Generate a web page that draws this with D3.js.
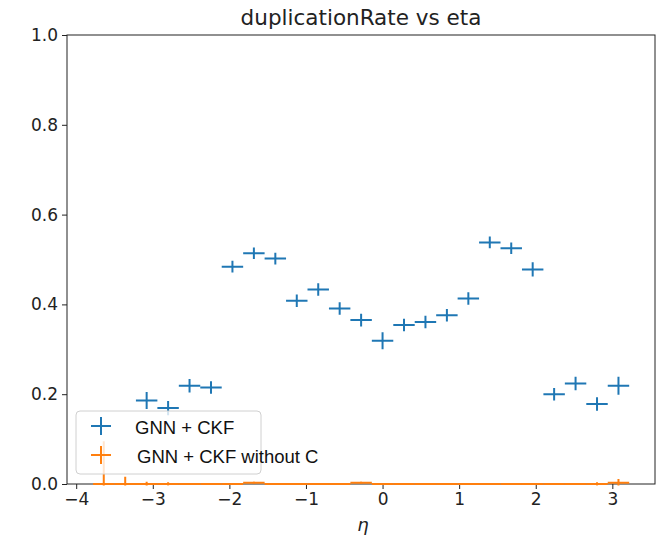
<!DOCTYPE html>
<html>
<head>
<meta charset="utf-8">
<script src="https://cdn.jsdelivr.net/npm/d3@7"></script>
<style>
  body { margin: 0; background: #fff; }
</style>
</head>
<body>
<svg id="chart" width="656" height="539"></svg>
<script>
// eta bin centres, bin width 0.28
const etaBins = [-3.64, -3.36, -3.08, -2.80, -2.52, -2.24, -1.96, -1.68, -1.40, -1.12, -0.84, -0.56, -0.28,
                 0.00, 0.28, 0.56, 0.84, 1.12, 1.40, 1.68, 1.96, 2.24, 2.52, 2.80, 3.08];
const binWidth = 0.28;

// GNN + CKF
const gnnCkf = [null, null, 0.186, 0.169, 0.219, 0.215, 0.484, 0.514, 0.502, 0.408, 0.433, 0.391, 0.365,
                0.319, 0.354, 0.361, 0.376, 0.413, 0.538, 0.525, 0.478, 0.200, 0.224, 0.178, 0.219];
const gnnCkfErr = [null, null, 0.019, 0.016, 0.015, 0.014, 0.013, 0.013, 0.013, 0.014, 0.014, 0.014, 0.014,
                   0.019, 0.014, 0.014, 0.014, 0.014, 0.013, 0.013, 0.016, 0.014, 0.015, 0.015, 0.020];

// GNN + CKF without C
const gnnCkfNoC = [0, 0, 0, 0, 0, 0, 0, 0.003, 0, 0, 0, 0, 0.003,
                   0, 0, 0, 0, 0, 0, 0, 0, 0, 0, 0, 0.003];
const gnnCkfNoCErr = [0.095, 0.016, 0.005, 0.004, 0, 0, 0, 0.002, 0, 0, 0, 0, 0.002,
                      0, 0, 0, 0, 0, 0, 0, 0, 0, 0, 0.004, 0.008];

const yTicks = [0, 0.2, 0.4, 0.6, 0.8, 1.0];
const xTicks = [-4, -3, -2, -1, 0, 1, 2, 3];

const seriesNames = ["GNN + CKF", "GNN + CKF without C"];
const colors = ["#1f77b4", "#ff7f0e"];

var svg = d3.select("#chart"),
    margin = {top: 35, right: 1, bottom: 55, left: 67},
    width = +svg.attr("width"),
    height = +svg.attr("height");

var x = d3.scaleLinear()
    .domain([-4.12, 3.557])
    .range([margin.left, width - margin.right]);

var y = d3.scaleLinear()
    .domain([0, 1])
    .range([height - margin.bottom, margin.top]);

// clip to plot area (a little slack at the bottom so the zero line shows)
svg.append("clipPath").attr("id", "plotClip")
  .append("rect")
    .attr("x", margin.left)
    .attr("y", margin.top)
    .attr("width", width - margin.left - margin.right)
    .attr("height", height - margin.top - margin.bottom + 1.5);

function styleTicks(g) {
    g.select(".domain").remove();
    g.selectAll("text")
        .style("font-family", "DejaVu Sans")
        .style("font-size", "17px")
        .attr("fill", "#222");
    g.selectAll("line").attr("stroke", "#222");
}

// axes
svg.append("g")
    .attr("transform", "translate(" + margin.left + ",0)")
    .call(d3.axisLeft(y).tickValues(yTicks).tickFormat(d3.format(".1f")).tickSize(5).tickPadding(4))
    .call(styleTicks);

svg.append("g")
    .attr("transform", "translate(0," + (height - margin.bottom) + ")")
    .call(d3.axisBottom(x).tickValues(xTicks).tickFormat(d => d < 0 ? "\u2212" + Math.abs(d) : d).tickSize(5).tickPadding(4))
    .call(styleTicks);

// frame
svg.append("rect")
    .attr("x", margin.left)
    .attr("y", margin.top)
    .attr("width", width - margin.left - margin.right)
    .attr("height", height - margin.top - margin.bottom)
    .attr("fill", "none")
    .attr("stroke", "#222")
    .attr("stroke-width", 1);

// error bar series
function drawSeries(values, errs, color) {
    var pts = etaBins.map((c, i) => ({c: c, v: values[i], e: errs[i]})).filter(d => d.v !== null);
    var g = svg.append("g").attr("clip-path", "url(#plotClip)");
    g.selectAll(".xbar").data(pts).enter().append("line")
        .attr("x1", d => x(d.c - binWidth / 2))
        .attr("x2", d => x(d.c + binWidth / 2))
        .attr("y1", d => y(d.v))
        .attr("y2", d => y(d.v))
        .attr("stroke", color)
        .attr("stroke-width", 2);
    g.selectAll(".ybar").data(pts.filter(d => d.e > 0)).enter().append("line")
        .attr("x1", d => x(d.c))
        .attr("x2", d => x(d.c))
        .attr("y1", d => y(d.v - d.e))
        .attr("y2", d => y(d.v + d.e))
        .attr("stroke", color)
        .attr("stroke-width", 2);
}

drawSeries(gnnCkf, gnnCkfErr, colors[0]);
drawSeries(gnnCkfNoC, gnnCkfNoCErr, colors[1]);

// title and label
svg.append("text")
    .attr("x", (margin.left + width - margin.right) / 2)
    .attr("y", 25)
    .attr("text-anchor", "middle")
    .style("font-family", "DejaVu Sans")
    .style("font-size", "21.5px")
    .attr("fill", "#222")
    .text("duplicationRate vs eta");

svg.append("text")
    .attr("x", (margin.left + width - margin.right) / 2 + 2)
    .attr("y", 531)
    .attr("text-anchor", "middle")
    .style("font-family", "DejaVu Sans")
    .style("font-size", "18px")
    .style("font-style", "italic")
    .attr("fill", "#222")
    .text("\u03b7");

// legend
var legend = svg.append("g");
legend.append("rect")
    .attr("x", 76)
    .attr("y", 411)
    .attr("width", 185)
    .attr("height", 63)
    .attr("rx", 4)
    .attr("fill", "#fff")
    .attr("fill-opacity", 0.8)
    .attr("stroke", "#d0d0d0")
    .attr("stroke-width", 1);

seriesNames.forEach(function(name, i) {
    var cy = 426 + i * 29;
    legend.append("line")
        .attr("x1", 91).attr("x2", 111)
        .attr("y1", cy).attr("y2", cy)
        .attr("stroke", colors[i]).attr("stroke-width", 2);
    legend.append("line")
        .attr("x1", 101).attr("x2", 101)
        .attr("y1", cy - 9).attr("y2", cy + 9)
        .attr("stroke", colors[i]).attr("stroke-width", 2);
    legend.append("text")
        .attr("x", 135 + i * 2)
        .attr("y", cy + 8)
        .style("font-family", "Liberation Sans")
        .style("font-size", "18.5px")
        .attr("fill", "#111")
        .text(name);
});
</script>
</body>
</html>
